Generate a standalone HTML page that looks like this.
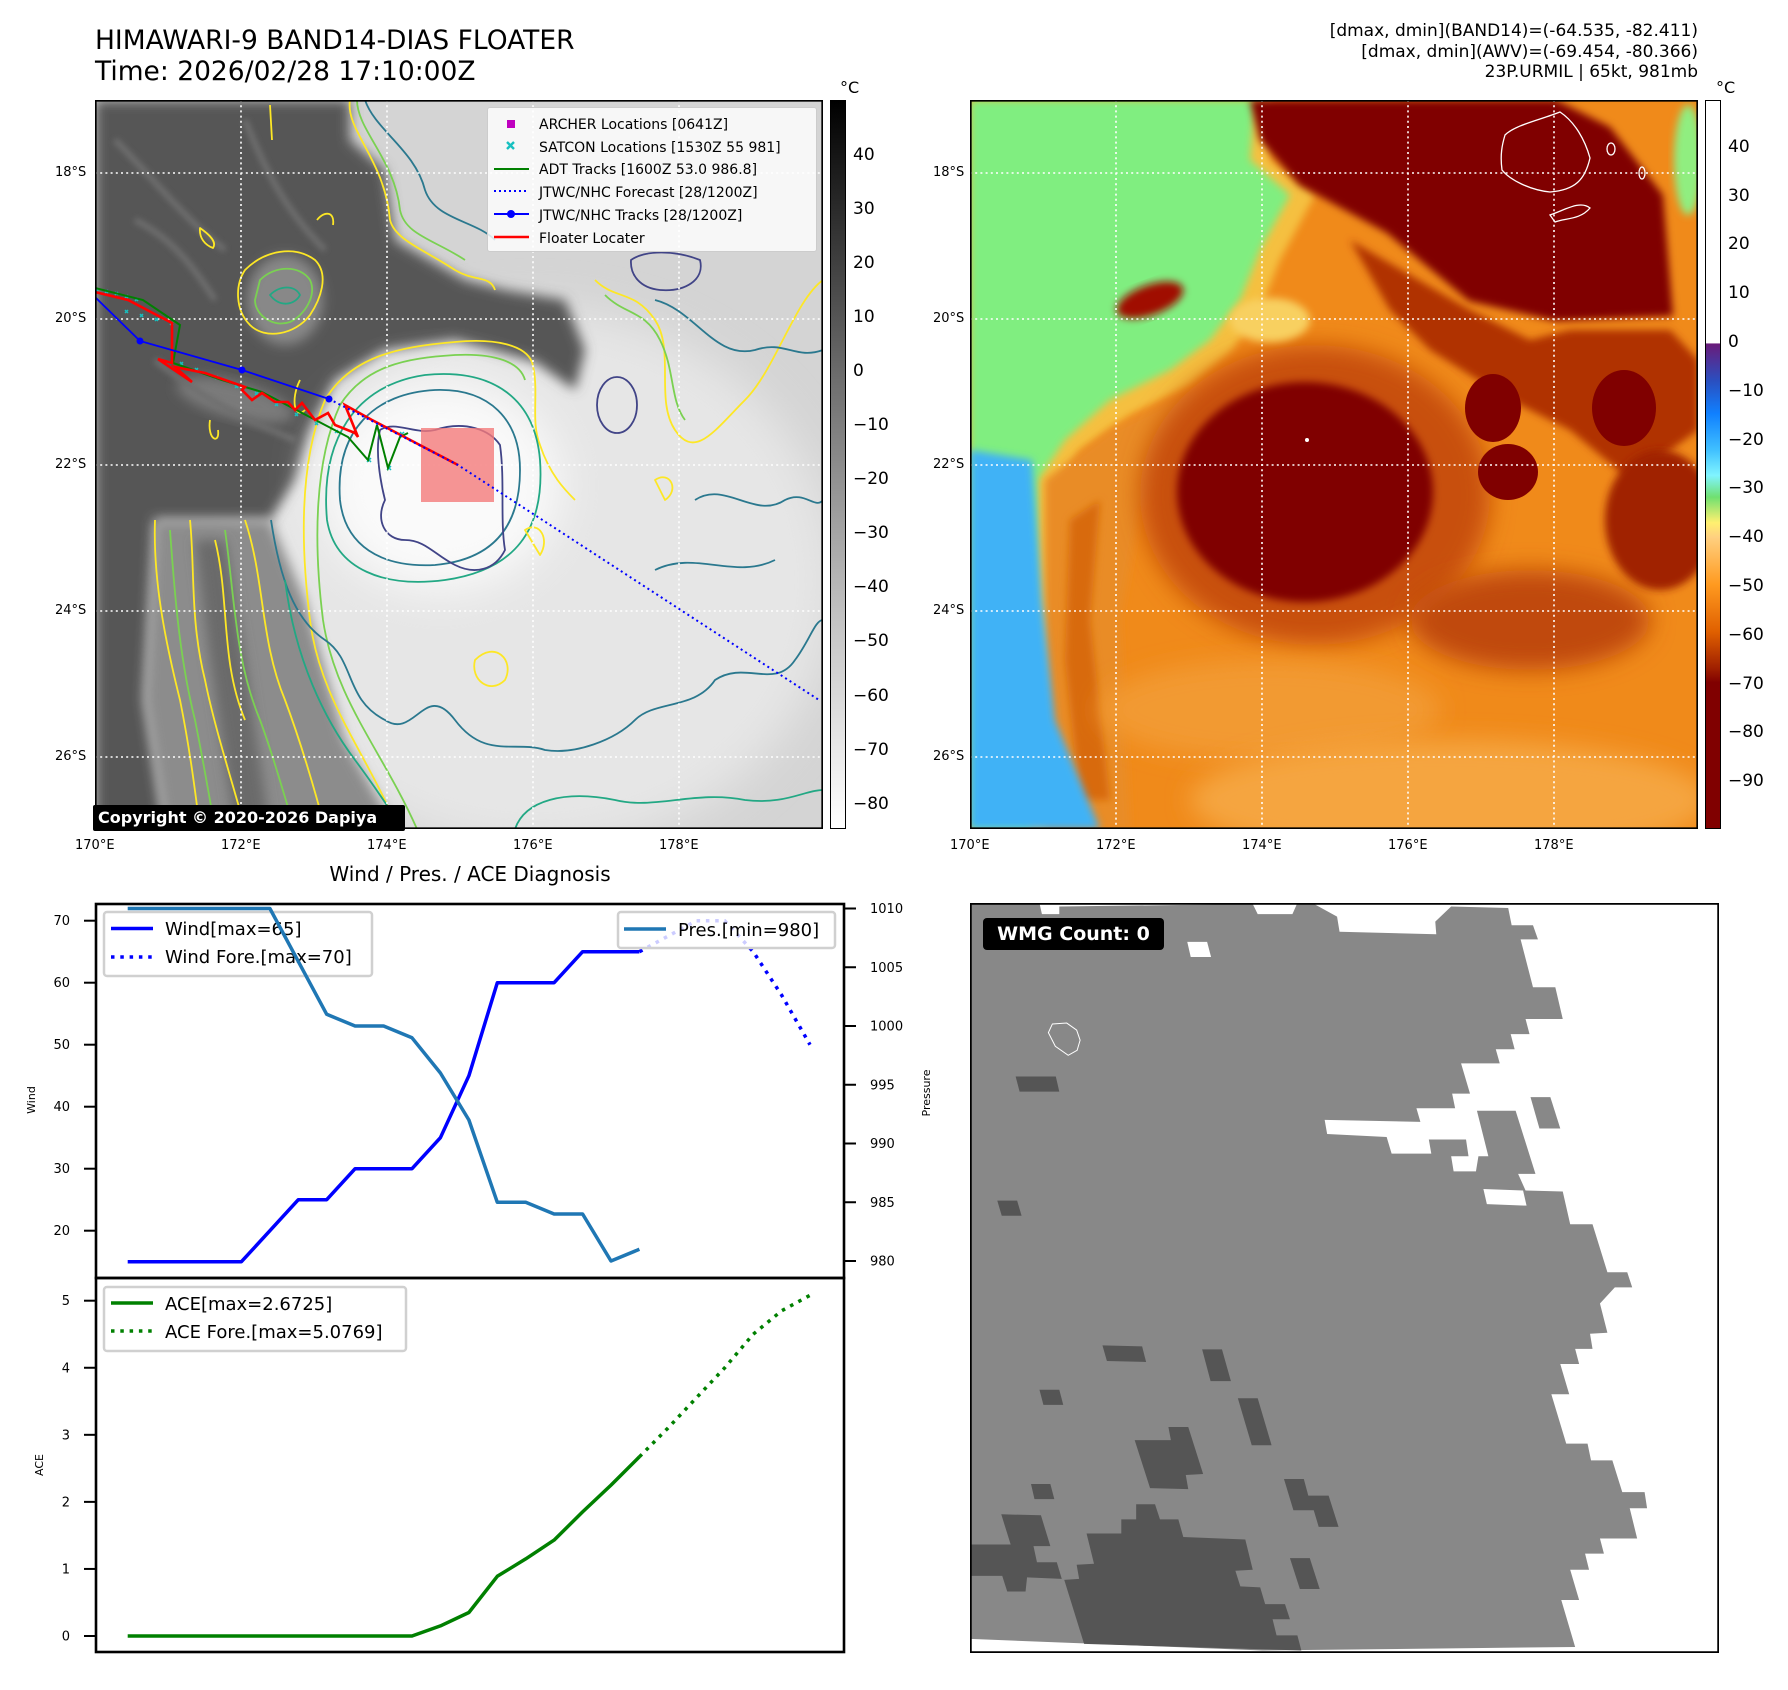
<!DOCTYPE html>
<html><head><meta charset="utf-8">
<style>
html,body{margin:0;padding:0;background:#fff;}
body{width:1788px;height:1690px;position:relative;overflow:hidden;font-family:"DejaVu Sans","Liberation Sans",sans-serif;color:#000;}
.abs{position:absolute;white-space:nowrap;}
.tk{font-size:13px;}
.cb{font-size:17px;}
</style></head>
<body>
<div class="abs" style="left:95px;top:25px;font-size:26.5px;line-height:31px;">HIMAWARI-9 BAND14-DIAS FLOATER<br>Time: 2026/02/28 17:10:00Z</div>
<div class="abs" style="right:90px;top:21px;font-size:17px;line-height:20.5px;text-align:right;">[dmax, dmin](BAND14)=(-64.535, -82.411)<br>[dmax, dmin](AWV)=(-69.454, -80.366)<br>23P.URMIL | 65kt, 981mb</div>

<!-- LEFT MAP -->
<svg class="abs" style="left:95px;top:100px" width="728" height="729" viewBox="0 0 728 729">
<defs>
<filter id="b6" x="-20%" y="-20%" width="140%" height="140%"><feGaussianBlur stdDeviation="6"/></filter>
<filter id="b20" x="-30%" y="-30%" width="160%" height="160%"><feGaussianBlur stdDeviation="22"/></filter>
<filter id="b3"><feGaussianBlur stdDeviation="3"/></filter>
</defs>
<rect width="728" height="729" fill="#d4d4d4"/>
<ellipse cx="440" cy="480" rx="300" ry="270" fill="#e6e6e6" filter="url(#b20)"/>
<polygon fill="#575757" filter="url(#b6)" points="0,0 255,0 255,40 290,70 300,140 370,180 410,190 470,200 490,250 480,290 440,262 360,240 290,250 240,280 215,330 200,380 175,420 60,420 50,600 70,729 0,729"/>
<polygon fill="#8c8c8c" filter="url(#b6)" points="60,420 175,420 210,500 250,640 300,729 70,729 50,600"/>
<polygon fill="#6a6a6a" filter="url(#b6)" points="100,440 130,440 150,560 175,729 140,729 115,560"/>
<ellipse cx="190" cy="200" rx="38" ry="45" fill="#888" filter="url(#b6)"/>
<ellipse cx="140" cy="300" rx="60" ry="18" fill="#7a7a7a" transform="rotate(15 140 300)" filter="url(#b6)"/>
<g stroke="#6e6e6e" stroke-width="6" fill="none" filter="url(#b3)">
<path d="M20,40 C60,80 90,120 130,150 M150,20 C170,70 190,110 230,150 M40,120 C80,140 100,170 120,200 M60,260 C110,300 150,320 200,340"/>
</g>
<ellipse cx="345" cy="385" rx="120" ry="105" fill="#fafafa" filter="url(#b20)"/>
<g fill="none" stroke-width="1.8" stroke-linejoin="round">
<path stroke="#fde725" d="M303,729 C270,650 225,600 215,520 C205,440 205,360 230,300 C255,258 300,247 360,242 C400,238 430,245 437,262 C445,290 435,320 445,345 C455,375 470,390 480,400"/>
<path stroke="#7ad151" d="M322,729 C287,650 240,600 228,520 C218,440 220,360 245,305 C270,266 310,258 360,255 C400,253 425,262 430,280"/>
<path stroke="#22a884" d="M232,420 C225,340 260,285 330,275 C400,268 440,300 445,360 C450,430 420,470 350,480 C290,488 240,470 232,420 Z"/>
<path stroke="#2a788e" d="M245,400 C240,330 280,293 340,290 C395,288 425,320 425,370 C425,430 395,460 340,465 C285,468 250,445 245,400 Z"/>
<path stroke="#2a788e" d="M176,420 C185,480 200,520 230,540 C260,560 250,600 290,620 C320,640 330,580 360,620 C390,660 420,640 450,650 C480,655 520,640 540,620 C560,600 600,610 620,580 C650,560 680,590 700,560 C715,540 720,520 728,520"/>
<path stroke="#22a884" d="M190,480 C200,560 230,620 260,660 C290,700 300,720 310,729 M420,729 C430,700 470,690 520,700 C560,710 600,690 650,700 C690,705 710,690 728,690"/>
<path stroke="#414487" d="M285,330 C300,320 320,335 340,330 C370,320 395,330 405,345 C410,380 405,420 410,450 C400,470 380,475 360,465 C340,455 330,440 310,440 C290,440 280,420 290,400 C285,380 280,350 285,330 Z"/>
<ellipse stroke="#414487" cx="522" cy="305" rx="20" ry="28"/>
<path stroke="#414487" d="M536,160 C550,150 580,150 605,160 C610,180 590,192 565,190 C545,188 535,175 536,160 Z"/>
<path stroke="#fde725" d="M255,0 C250,30 290,60 295,120 C300,140 330,150 360,170 C380,182 395,175 400,190 M500,180 C520,200 540,190 560,220 C580,250 560,300 580,330 C600,360 620,330 650,300 C680,270 700,200 728,180"/>
<path stroke="#7ad151" d="M262,0 C262,30 300,60 305,110 C310,135 340,140 370,160 M510,195 C530,215 550,210 565,240 C580,270 575,300 590,320"/>
<path stroke="#2a788e" d="M270,0 C280,30 320,50 330,90 C340,120 380,120 400,140 M560,200 C600,210 620,260 660,250 C690,240 700,260 728,250 M600,400 C630,380 660,420 690,400 C710,390 720,410 728,400 M560,470 C600,450 640,480 680,460"/>
<path stroke="#fde725" d="M150,170 C170,150 200,145 220,160 C235,175 225,200 215,215 C200,235 170,240 155,225 C140,210 140,185 150,170 Z"/>
<path stroke="#7ad151" d="M165,180 C180,165 205,165 215,180 C222,195 210,215 195,222 C178,228 160,215 160,200 Z"/>
<path stroke="#22a884" d="M175,195 C185,185 200,185 205,195 C200,205 185,208 175,195 Z"/>
<path stroke="#fde725" d="M60,420 C58,480 70,540 85,600 C95,650 100,690 105,729 M95,420 C100,470 95,520 110,580 C120,630 140,690 150,729 M150,420 C170,480 165,540 190,600 C205,640 220,690 230,729 M120,440 C135,500 125,560 150,620"/>
<path stroke="#7ad151" d="M75,430 C80,500 85,560 100,620 C108,660 115,700 120,729 M130,430 C140,500 140,560 165,620 C180,660 190,700 200,729"/>
<path stroke="#fde725" d="M105,128 C115,135 122,142 118,148 C110,145 104,138 105,128 Z M175,5 L177,40 M222,120 C230,110 240,112 238,125 M205,280 C195,300 200,320 210,310 M115,320 C112,340 125,345 123,330"/>
<path stroke="#fde725" d="M380,560 C400,540 420,560 410,580 C395,595 375,580 380,560 Z M430,430 C445,420 455,440 445,455 Z M560,380 C575,370 585,390 570,400 Z"/>
</g>
<g stroke="#fff" stroke-width="1.6" stroke-dasharray="2 3.2" fill="none">
<line x1="146" y1="0" x2="146" y2="729"/><line x1="292" y1="0" x2="292" y2="729"/><line x1="438" y1="0" x2="438" y2="729"/><line x1="584" y1="0" x2="584" y2="729"/>
<line x1="0" y1="73" x2="728" y2="73"/><line x1="0" y1="219" x2="728" y2="219"/><line x1="0" y1="365" x2="728" y2="365"/><line x1="0" y1="511" x2="728" y2="511"/><line x1="0" y1="657" x2="728" y2="657"/>
</g>
<rect x="326" y="328" width="73" height="74" fill="#f47a7a" opacity="0.8"/>
<g stroke="#17c0c0" stroke-width="1.5">
<path d="M0,188 l3,3 m0,-3 l-3,3 M10,190 l3,3 m0,-3 l-3,3 M20,192 l3,3 m0,-3 l-3,3 M30,195 l3,3 m0,-3 l-3,3 M40,198 l3,3 m0,-3 l-3,3 M30,210 l3,3 m0,-3 l-3,3 M45,214 l3,3 m0,-3 l-3,3 M60,218 l3,3 m0,-3 l-3,3 M75,222 l3,3 m0,-3 l-3,3 M85,262 l3,3 m0,-3 l-3,3 M100,268 l3,3 m0,-3 l-3,3 M120,276 l3,3 m0,-3 l-3,3 M140,285 l3,3 m0,-3 l-3,3 M160,292 l3,3 m0,-3 l-3,3 M180,303 l3,3 m0,-3 l-3,3 M200,313 l3,3 m0,-3 l-3,3 M220,322 l3,3 m0,-3 l-3,3 M240,330 l3,3 m0,-3 l-3,3 M272,358 l4,4 m0,-4 l-4,4 M292,366 l4,4 m0,-4 l-4,4 M305,332 l4,4 m0,-4 l-4,4"/>
</g>
<polyline fill="none" stroke="#008000" stroke-width="2" points="0,188 48,200 85,225 78,263 127,280 167,292 253,337 273,360 282,325 293,368 305,337 313,333"/>
<polyline fill="none" stroke="#ff0000" stroke-width="2.6" points="0,192 33,200 77,223 77,263 63,259 97,282 80,267 110,273 150,287 147,290 157,300 167,293 180,302 193,302 200,310 207,303 220,320 233,313 240,325 260,333 263,337 250,305 277,320 363,365"/>
<polyline fill="none" stroke="#0000ff" stroke-width="2" stroke-dasharray="2 3.3" points="234,299 363,365 724,600"/>
<polyline fill="none" stroke="#0000ff" stroke-width="1.8" points="0,197 45,241 147,270 234,299"/>
<g fill="#0000ff"><circle cx="45" cy="241" r="3.5"/><circle cx="147" cy="270" r="3.5"/><circle cx="234" cy="299" r="3.5"/></g>
<rect x="0.75" y="0.75" width="726.5" height="727.5" fill="none" stroke="#000" stroke-width="1.8"/>
</svg>
<div class="abs" style="left:93px;top:805px;width:312px;height:26px;background:#000;color:#fff;font-weight:bold;font-size:16px;line-height:26px;padding-left:5px;box-sizing:border-box;border-radius:2px;">Copyright © 2020-2026 Dapiya</div>

<div class="abs" style="left:487px;top:107px;width:330px;height:145px;background:rgba(255,255,255,0.82);border:1px solid #ccc;border-radius:3px;box-sizing:border-box;font-size:14px;">
<svg class="abs" style="left:0;top:0" width="60" height="145">
<rect x="19" y="12" width="8" height="8" fill="#bf00bf"/>
<path d="M19,34 l7,7 m0,-7 l-7,7" stroke="#17c0c0" stroke-width="2.4"/>
<line x1="6" y1="61" x2="41" y2="61" stroke="#008000" stroke-width="2"/>
<line x1="6" y1="83" x2="41" y2="83" stroke="#0000ff" stroke-width="2" stroke-dasharray="2 3"/>
<line x1="6" y1="106" x2="41" y2="106" stroke="#0000ff" stroke-width="2"/><circle cx="23" cy="106" r="4" fill="#0000ff"/>
<line x1="6" y1="129" x2="41" y2="129" stroke="#ff0000" stroke-width="2.4"/>
</svg>
<div class="abs" style="left:51px;top:6px;line-height:22.7px;">ARCHER Locations [0641Z]<br>SATCON Locations [1530Z 55 981]<br>ADT Tracks [1600Z 53.0 986.8]<br>JTWC/NHC Forecast [28/1200Z]<br>JTWC/NHC Tracks [28/1200Z]<br>Floater Locater</div>
</div>

<div class="abs" style="left:830px;top:100px;width:16px;height:729px;background:linear-gradient(#000 0%,#6a6a6a 37%,#c0c0c0 70%,#fff 100%);border:1px solid #000;box-sizing:border-box;"></div>
<div class="abs cb" style="left:840px;top:78px;font-size:16px;">°C</div>
<div id="lcb"></div>

<div class="abs tk" style="left:0;top:0;">
<span class="abs" style="left:55px;top:165px;">18°S</span>
<span class="abs" style="left:55px;top:311px;">20°S</span>
<span class="abs" style="left:55px;top:457px;">22°S</span>
<span class="abs" style="left:55px;top:603px;">24°S</span>
<span class="abs" style="left:55px;top:749px;">26°S</span>
</div>
<div id="lonlabels"></div>

<!-- RIGHT MAP -->
<svg class="abs" style="left:970px;top:100px" width="728" height="729" viewBox="0 0 728 729">
<defs>
<filter id="c4" x="-20%" y="-20%" width="140%" height="140%"><feGaussianBlur stdDeviation="4"/></filter>
<filter id="c10" x="-30%" y="-30%" width="160%" height="160%"><feGaussianBlur stdDeviation="12"/></filter>
</defs>
<rect width="728" height="729" fill="#f08a1a"/>
<polygon fill="#f5c040" filter="url(#c4)" points="0,0 300,0 300,60 345,95 310,160 290,210 262,250 220,285 160,315 110,350 85,390 80,729 0,729"/>
<polygon fill="#80ee80" filter="url(#c4)" points="0,0 285,0 280,60 320,95 290,150 270,200 240,240 200,270 140,300 95,340 68,380 60,729 0,729"/>
<polygon fill="#e98c28" filter="url(#c4)" points="75,380 140,330 200,300 230,290 215,340 170,410 150,520 160,729 75,729"/>
<polygon fill="#d86a10" filter="url(#c4)" points="100,420 130,400 120,520 140,700 110,700 95,560"/>
<polygon fill="#3fb2f6" filter="url(#c4)" points="0,350 62,360 72,500 85,620 130,729 0,729"/>
<ellipse cx="180" cy="200" rx="35" ry="15" fill="#a01000" transform="rotate(-20 180 200)" filter="url(#c4)"/>
<ellipse cx="718" cy="60" rx="14" ry="55" fill="#90ee80" filter="url(#c4)"/>
<polygon fill="#800000" filter="url(#c4)" points="378,0 586,0 640,27 693,95 703,216 586,221 499,201 417,133 329,85 290,40 280,0"/>
<polygon fill="#b03000" filter="url(#c4)" points="380,140 500,210 560,240 600,230 700,230 728,260 728,330 660,380 600,330 540,300 460,250 420,210"/>
<ellipse cx="345" cy="395" rx="175" ry="150" fill="#c85008" filter="url(#c10)"/>
<ellipse cx="335" cy="392" rx="128" ry="110" fill="#800000" filter="url(#c4)"/>
<ellipse cx="560" cy="520" rx="120" ry="50" fill="#c04808" filter="url(#c10)"/>
<ellipse cx="523" cy="308" rx="28" ry="34" fill="#800000"/>
<ellipse cx="538" cy="372" rx="30" ry="28" fill="#800000"/>
<ellipse cx="654" cy="308" rx="32" ry="38" fill="#800000"/>
<ellipse cx="690" cy="420" rx="55" ry="70" fill="#a02000" filter="url(#c4)"/>
<ellipse cx="300" cy="610" rx="170" ry="50" fill="#f29a30" filter="url(#c10)"/>
<ellipse cx="480" cy="700" rx="260" ry="60" fill="#f5a540" filter="url(#c10)"/>
<ellipse cx="300" cy="220" rx="40" ry="22" fill="#f8d060" filter="url(#c4)"/>
<g fill="none" stroke="#fff" stroke-width="1.3">
<path d="M535,35 C545,25 570,20 590,12 C605,22 615,40 620,58 C615,80 605,90 580,92 C560,90 540,80 532,70 C530,55 532,45 535,35 Z"/>
<path d="M580,115 C595,110 610,100 620,108 C610,120 595,118 585,122 Z"/>
<ellipse cx="641" cy="49" rx="4" ry="6"/><ellipse cx="672" cy="73" rx="3" ry="6"/>
</g>
<circle cx="337" cy="340" r="2" fill="#fff"/>
<g stroke="#fff" stroke-width="1.6" stroke-dasharray="2 3.2" fill="none">
<line x1="146" y1="0" x2="146" y2="729"/><line x1="292" y1="0" x2="292" y2="729"/><line x1="438" y1="0" x2="438" y2="729"/><line x1="584" y1="0" x2="584" y2="729"/>
<line x1="0" y1="73" x2="728" y2="73"/><line x1="0" y1="219" x2="728" y2="219"/><line x1="0" y1="365" x2="728" y2="365"/><line x1="0" y1="511" x2="728" y2="511"/><line x1="0" y1="657" x2="728" y2="657"/>
</g>
<rect x="0.75" y="0.75" width="726.5" height="727.5" fill="none" stroke="#000" stroke-width="1.8"/>
</svg>
<div class="abs" style="left:1705px;top:100px;width:16px;height:729px;border:1px solid #000;box-sizing:border-box;background:linear-gradient(#fff 0%,#fff 33.3%,#6a1b7a 33.4%,#2a4fc0 38.5%,#1080ff 43%,#40c0ff 48%,#80f4ff 51.5%,#70e070 54.5%,#fff070 58%,#ffd080 60%,#ff9a20 66.5%,#e06000 73%,#a02000 78%,#800000 80%,#800000 100%);"></div>
<div class="abs cb" style="left:1716px;top:78px;font-size:16px;">°C</div>
<div id="rcb"></div>
<div class="abs tk" style="left:0;top:0;">
<span class="abs" style="left:933px;top:165px;">18°S</span>
<span class="abs" style="left:933px;top:311px;">20°S</span>
<span class="abs" style="left:933px;top:457px;">22°S</span>
<span class="abs" style="left:933px;top:603px;">24°S</span>
<span class="abs" style="left:933px;top:749px;">26°S</span>
</div>

<!-- DIAGNOSIS CHART -->
<div class="abs" style="left:470px;top:862px;transform:translateX(-50%);font-size:20px;">Wind / Pres. / ACE Diagnosis</div>
<svg id="diag" class="abs" style="left:0;top:0" width="960" height="1690"></svg>

<!-- WMG PANEL -->
<svg class="abs" style="left:970px;top:903px" width="749" height="750" viewBox="20 28 1510 1487" preserveAspectRatio="none">
<rect x="20" y="28" width="1510" height="1487" fill="#fff"/>
<polygon fill="#888" points="20,28 160,28 165,50 200,50 200,35 590,30 600,50 670,50 680,28 710,28 760,55 765,85 960,90 958,65 990,35 1105,38 1112,72 1155,72 1165,100 1130,100 1155,195 1200,195 1215,258 1140,258 1148,288 1110,288 1118,318 1080,318 1088,346 1010,346 1028,406 992,406 998,435 920,435 928,462 735,458 740,486 860,492 870,525 950,525 945,497 1020,497 1025,530 990,530 995,560 1040,560 1045,530 1065,530 1042,440 1120,440 1160,565 1125,565 1140,598 1215,600 1230,665 1275,665 1305,760 1345,760 1355,790 1320,790 1290,822 1305,880 1270,882 1275,912 1240,912 1248,942 1210,942 1228,1002 1192,1002 1222,1100 1265,1100 1272,1133 1315,1133 1335,1196 1380,1196 1385,1228 1350,1228 1365,1288 1290,1288 1298,1318 1260,1318 1268,1350 1230,1350 1248,1410 1212,1410 1240,1503 610,1510 20,1487"/>
<polygon fill="#888" points="1150,413 1190,413 1210,475 1168,475"/>
<polygon fill="#fff" points="458,105 498,105 506,135 465,135"/>
<polygon fill="#fff" points="1055,595 1135,598 1142,628 1062,625"/>
<g fill="#555">
<polygon points="112,372 193,372 200,402 120,402"/>
<polygon points="75,618 115,618 124,648 84,648"/>
<polygon points="287,905 367,907 375,938 296,936"/>
<polygon points="488,913 528,913 546,976 505,976"/>
<polygon points="160,993 200,993 208,1023 168,1023"/>
<polygon points="560,1010 600,1010 628,1103 588,1103"/>
<polygon points="420,1067 460,1067 490,1160 455,1162 460,1190 383,1188 352,1093 425,1093"/>
<polygon points="143,1180 182,1180 190,1210 150,1210"/>
<polygon points="653,1170 693,1170 702,1203 743,1203 763,1265 723,1265 713,1232 672,1232"/>
<polygon points="665,1327 705,1327 725,1388 685,1388"/>
<polygon points="83,1240 163,1242 182,1303 148,1303 155,1335 195,1335 205,1368 135,1365 132,1393 95,1393 85,1362 20,1362 20,1300 102,1300"/>
<polygon points="255,1278 325,1278 325,1250 355,1250 355,1220 393,1220 403,1250 440,1250 450,1285 575,1290 590,1350 555,1352 565,1383 605,1385 615,1418 655,1418 665,1448 630,1448 638,1480 680,1480 688,1510 250,1497 210,1370 240,1368 235,1340 270,1338"/>
</g>
<path d="M186,268 L215,266 L235,280 L242,300 L236,320 L218,330 L192,312 L178,285 Z" fill="none" stroke="#fff" stroke-width="2"/>
<rect x="21.5" y="29.5" width="1507" height="1484" fill="none" stroke="#000" stroke-width="4"/>
</svg>
<div class="abs" style="left:983px;top:918px;width:181px;height:32px;background:#000;color:#fff;font-weight:bold;font-size:19px;line-height:32px;text-align:center;border-radius:4px;">WMG Count: 0</div>

<script>
// ---- chart data ----
const steps = [0,1,2,3,4,5,6,7,8,9,10,11,12,13,14,15,16,17,18,19,20,21,22,23,24];
const windObs = [15,15,15,15,15,20,25,25,30,30,30,35,45,60,60,60,65,65,65];
const windFore = [null,null,null,null,null,null,null,null,null,null,null,null,null,null,null,null,null,null,65,67.5,70,70,65,58,50];
const presObs = [1010,1010,1010,1010,1010,1010,1005.5,1001,1000,1000,999,996,992,985,985,984,984,980,981];
const presFore = [null,null,null,null,null,null,null,null,null,null,null,null,null,null,null,null,null,null,981,1006,1009,1009,1007,1004,1000];
const aceObs = [0,0,0,0,0,0,0,0,0,0,0,0.15,0.35,0.89,1.15,1.43,1.85,2.25,2.6725];
const aceFore = [null,null,null,null,null,null,null,null,null,null,null,null,null,null,null,null,null,null,2.6725,3.1,3.55,4.0,4.5,4.85,5.08];
const windTicks = [20,30,40,50,60,70];
const presTicks = [980,985,990,995,1000,1005,1010];
const aceTicks = [0,1,2,3,4,5];
const lonTicks = ['170°E','172°E','174°E','176°E','178°E'];
const leftCbTicks = [40,30,20,10,0,-10,-20,-30,-40,-50,-60,-70,-80];
const rightCbTicks = [40,30,20,10,0,-10,-20,-30,-40,-50,-60,-70,-80,-90];

const NS='http://www.w3.org/2000/svg';
const xs = i => 127.7 + i*28.43;
const yWind = v => 920.7 + (70-v)*6.2;
const yPres = v => 1261 - (v-980)*11.75;
const yAce = v => 1636 - v*67.06;
const svg = document.getElementById('diag');
function mk(tag, attrs){const e=document.createElementNS(NS,tag);for(const k in attrs)e.setAttribute(k,attrs[k]);svg.appendChild(e);return e;}
function pts(arr, yf){const p=[];arr.forEach((v,i)=>{if(v!==null&&v!==undefined)p.push(xs(steps[i]).toFixed(1)+','+yf(v).toFixed(1));});return p.join(' ');}
function txt(x,y,s,anchor,size){const t=mk('text',{x:x,y:y,'font-size':size||13,'text-anchor':anchor||'start','font-family':'DejaVu Sans, Liberation Sans, sans-serif'});t.textContent=s;return t;}

let e;
e=mk('polyline',{points:pts(windObs,yWind),fill:'none',stroke:'#0000ff','stroke-width':3.5,'stroke-linejoin':'round'});


e=mk('polyline',{points:pts(windFore,yWind),fill:'none',stroke:'#0000ff','stroke-width':3.5,'stroke-dasharray':'3.5 5.8'});


windTicks.forEach(v=>{const y=yWind(v);mk('line',{x1:84,y1:y,x2:95,y2:y,stroke:'#000','stroke-width':2});txt(70,y+4.5,String(v),'end');});
e=mk('rect',{x:104,y:912,width:268,height:64,rx:3,fill:'rgba(255,255,255,0.85)',stroke:'#d0d0d0','stroke-width':2.5});


mk('line',{x1:111,y1:928.5,x2:153,y2:928.5,stroke:'#0000ff','stroke-width':3.5});
mk('line',{x1:111,y1:957,x2:153,y2:957,stroke:'#0000ff','stroke-width':3.5,'stroke-dasharray':'3.5 5.8'});
txt(165,935,'Wind[max=65]','start',18);
txt(165,963,'Wind Fore.[max=70]','start',18);
e=mk('polyline',{points:pts(presObs,yPres),fill:'none',stroke:'#1f77b4','stroke-width':3.5,'stroke-linejoin':'round'});


e=mk('polyline',{points:pts(presFore,yPres),fill:'none',stroke:'#1f77b4','stroke-width':3.5,'stroke-dasharray':'3.5 5.8',opacity:'0'});


presTicks.forEach(v=>{const y=yPres(v);mk('line',{x1:845,y1:y,x2:856,y2:y,stroke:'#000','stroke-width':2});txt(870,y+4.5,String(v),'start');});
e=mk('rect',{x:618,y:912,width:217,height:36,rx:3,fill:'rgba(255,255,255,0.8)',stroke:'#d0d0d0','stroke-width':2.5});


mk('line',{x1:624,y1:929,x2:666,y2:929,stroke:'#1f77b4','stroke-width':3.5});
txt(678,936,'Pres.[min=980]','start',18);
e=mk('polyline',{points:pts(aceObs,yAce),fill:'none',stroke:'#008000','stroke-width':3.5,'stroke-linejoin':'round'});


e=mk('polyline',{points:pts(aceFore,yAce),fill:'none',stroke:'#008000','stroke-width':3.5,'stroke-dasharray':'3.5 5.8'});


aceTicks.forEach(v=>{const y=yAce(v);mk('line',{x1:84,y1:y,x2:95,y2:y,stroke:'#000','stroke-width':2});txt(70,y+4.5,String(v),'end');});
e=mk('rect',{x:104,y:1287,width:302,height:64,rx:3,fill:'rgba(255,255,255,0.85)',stroke:'#d0d0d0','stroke-width':2.5});


mk('line',{x1:111,y1:1303,x2:153,y2:1303,stroke:'#008000','stroke-width':3.5});
mk('line',{x1:111,y1:1331,x2:153,y2:1331,stroke:'#008000','stroke-width':3.5,'stroke-dasharray':'3.5 5.8'});
txt(165,1310,'ACE[max=2.6725]','start',18);
txt(165,1338,'ACE Fore.[max=5.0769]','start',18);
mk('rect',{x:96,y:904,width:748,height:374,fill:'none',stroke:'#000','stroke-width':2.6});
mk('rect',{x:96,y:1278,width:748,height:374,fill:'none',stroke:'#000','stroke-width':2.6});
let t=txt(0,0,'Wind','middle',11);t.setAttribute('transform','translate(35,1100) rotate(-90)');


t=txt(0,0,'Pressure','middle',11);t.setAttribute('transform','translate(930,1093) rotate(-90)');


t=txt(0,0,'ACE','middle',11);t.setAttribute('transform','translate(43,1465) rotate(-90)');



function addDiv(parent,html,style){const d=document.createElement('div');d.className='abs';d.style.cssText=style;d.textContent=html;parent.appendChild(d);return d;}
const lon=document.getElementById('lonlabels');
lonTicks.forEach((s,i)=>{
 let d=addDiv(lon,s,'left:'+(95+i*146-20)+'px;top:838px;font-size:13px;');
 
 
 d=addDiv(lon,s,'left:'+(970+i*146-20)+'px;top:838px;font-size:13px;');
 
 
});
const lcb=document.getElementById('lcb');
leftCbTicks.forEach(v=>{const y=156+(40-v)*5.405;
 const d=addDiv(lcb,(v<0?'\u2212'+(-v):String(v)),'left:853px;top:'+(y-11)+'px;font-size:17px;');
 
 
});
const rcb=document.getElementById('rcb');
rightCbTicks.forEach(v=>{const y=343-v*4.88;
 const d=addDiv(rcb,(v<0?'\u2212'+(-v):String(v)),'left:1728px;top:'+(y-11)+'px;font-size:17px;');
 
 
});
</script>
</body></html>
